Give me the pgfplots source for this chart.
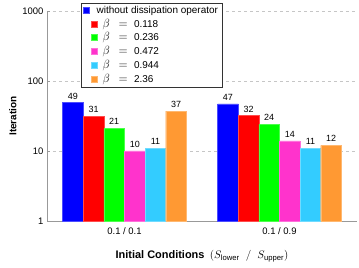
\documentclass[border=0pt]{standalone}
\usepackage{fontspec}
\setmainfont{Liberation Sans}
\usepackage{pgfplots}
\pgfplotsset{compat=1.18}
\definecolor{cB}{RGB}{0,0,255}
\definecolor{cR}{RGB}{255,0,0}
\definecolor{cG}{RGB}{0,255,0}
\definecolor{cM}{RGB}{255,51,204}
\definecolor{cC}{RGB}{51,204,255}
\definecolor{cO}{RGB}{255,153,51}
\newcommand{\bt}[1]{\hspace{3bp}{\fontsize{12}{12}\selectfont$\beta\;\,=\;\,$}\hspace{1bp}#1}
\begin{document}
\begin{tikzpicture}
\begin{axis}[
  name=ax,
  scale only axis, width=310bp, height=210bp,
  ymode=log, ymin=1, ymax=1000,
  xmin=-0.5, xmax=1.5,
  ybar=0pt, bar width=0.133,
  axis x line*=bottom, axis y line*=left,
  axis line style={gray!80, -},
  ytick={1,10,100,1000}, yticklabels={1,10,100,1000},
  yminorticks=false,
  ymajorgrids, grid style={dashed, gray!45},
  xtick={0,1}, xticklabels={0.1 / 0.1, 0.1 / 0.9},
  major x tick style={draw=none},
  extra x ticks={0.5}, extra x tick labels={},
  extra x tick style={major tick length=3bp, tick style={draw=gray!80}, grid=none},
  major tick length=3bp,
  tick style={gray!80},
  tick label style={font=\fontsize{9.5}{11}\selectfont},
  /pgf/number format/assume math mode=true,
  ylabel={\textbf{Iteration}},
  xlabel={\textbf{Initial Conditions}\enspace$(S_{\mathrm{lower}}\;\;/\;\;S_{\mathrm{upper}})$},
  ylabel style={font=\fontsize{10}{12}\selectfont, yshift=-1bp},
  xlabel style={font=\fontsize{11}{13}\selectfont, yshift=-3bp},
  point meta=explicit symbolic,
  nodes near coords={\pgfplotspointmeta},
  every node near coord/.append style={font=\fontsize{9}{10}\selectfont, black},
  legend style={at={(0.11,1.038)}, anchor=north west, draw=black!80, font=\fontsize{10}{11}\selectfont,
    row sep=0bp, inner xsep=2bp, inner ysep=1bp, cells={anchor=west}},
  legend image code/.code={\path[draw=none,fill=none] (0bp,0bp) -- (14bp,0bp); \fill[#1] (8bp,-3bp) rectangle (14bp,3bp);},
]
\addplot[fill=cB, draw=cB!70!white, legend image code/.code={\path[draw=none,fill=none] (0bp,0bp) -- (14bp,0bp); \fill[##1] (0bp,-3bp) rectangle (6bp,3bp);}] coordinates {(0,49) [49] (1,47) [47]};
\addplot[fill=cR, draw=cR!70!white] coordinates {(0,31) [31] (1,32) [32]};
\addplot[fill=cG, draw=cG!70!white] coordinates {(0,21) [21] (1,24) [24]};
\addplot[fill=cM, draw=cM!70!white] coordinates {(0,10) [10] (1,14) [14]};
\addplot[fill=cC, draw=cC!70!white] coordinates {(0,11) [11] (1,11) [11]};
\addplot[fill=cO, draw=cO!70!white] coordinates {(0,37) [37] (1,12) [12]};
\legend{\hspace{-3bp}without dissipation operator,
  \bt{0.118}, \bt{0.236}, \bt{0.472}, \bt{0.944}, \bt{2.36}}
\end{axis}
\pgfresetboundingbox
\useasboundingbox ([shift={(-47bp,-47bp)}]ax.south west) rectangle ([shift={(2bp,11bp)}]ax.north east);
\end{tikzpicture}
\end{document}
